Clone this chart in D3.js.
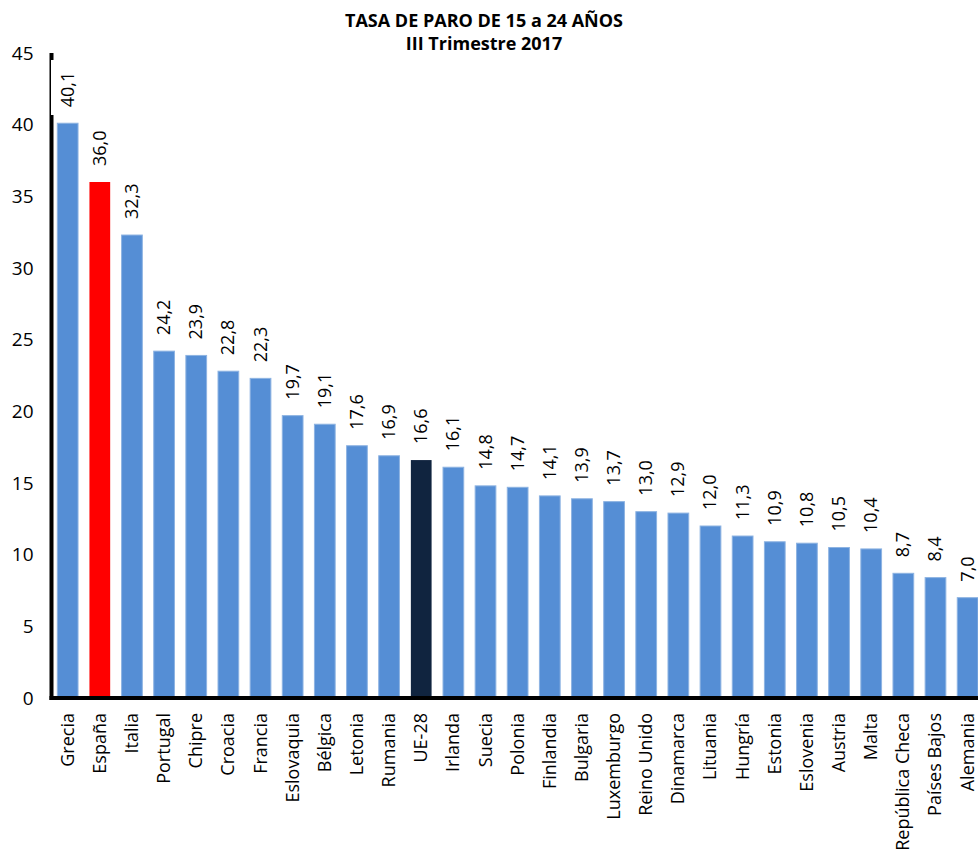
<!DOCTYPE html>
<html><head><meta charset="utf-8">
<script src="https://cdn.jsdelivr.net/npm/d3@7"></script>
<style>body{margin:0;background:#fff}svg{display:block}</style>
</head><body>
<script>
const categories = ["Grecia","España","Italia","Portugal","Chipre","Croacia","Francia","Eslovaquia","Bélgica","Letonia","Rumania","UE-28","Irlanda","Suecia","Polonia","Finlandia","Bulgaria","Luxemburgo","Reino Unido","Dinamarca","Lituania","Hungría","Estonia","Eslovenia","Austria","Malta","República Checa","Países Bajos","Alemania"];
const values = [40.1,36.0,32.3,24.2,23.9,22.8,22.3,19.7,19.1,17.6,16.9,16.6,16.1,14.8,14.7,14.1,13.9,13.7,13.0,12.9,12.0,11.3,10.9,10.8,10.5,10.4,8.7,8.4,7.0];
const yTicks = [0,5,10,15,20,25,30,35,40,45];
const titleLines = ["TASA DE PARO DE 15 a 24 AÑOS","III Trimestre 2017"];

const W = 978, H = 852;
const font = "Open Sans, sans-serif";
const svg = d3.select("body").append("svg").attr("width", W).attr("height", H);

const x = d3.scaleBand().domain(categories).range([51.6, 983.7]).paddingInner(0.355).paddingOuter(0.1775);
const y = d3.scaleLinear().domain([0,45]).range([698, 53]);

function color(c){ return c==="España" ? "#FF0000" : (c==="UE-28" ? "#10243F" : "#558ED5"); }

svg.append("g").selectAll("rect").data(categories).join("rect")
  .attr("x", d => x(d)).attr("width", x.bandwidth())
  .attr("y", (d,i) => y(values[i])).attr("height", (d,i) => y(0) - y(values[i]))
  .attr("fill", d => color(d))
  .attr("stroke", d => d==="España"||d==="UE-28" ? "none" : "#8DB3E2").attr("stroke-width", 1);

// value labels
svg.append("g").selectAll("text").data(categories).join("text")
  .attr("transform", (d,i) => `translate(${x(d)+x.bandwidth()/2+6},${y(values[i])-16}) rotate(-90)`)
  .attr("font-family", font).attr("font-size", 18).attr("fill", "#000")
  .text((d,i) => d3.format(".1f")(values[i]).replace(".", ","));

// y axis
const yAxis = d3.axisLeft(y).tickValues(yTicks).tickSize(0).tickPadding(18);
const gy = svg.append("g").attr("transform", "translate(51.5,0)").call(yAxis);
gy.select(".domain").remove();
gy.selectAll("text").attr("font-family", font).attr("font-size", 19).attr("fill", "#000");
svg.append("line").attr("x1", 51.5).attr("x2", 51.5).attr("y1", y(45)).attr("y2", y(0)+2)
  .attr("stroke", "#000").attr("stroke-width", 4);
svg.append("rect").attr("x", 51).attr("y", y(45)+7).attr("width", 3).attr("height", 55).attr("fill", "#fff");

// x axis
const xAxis = d3.axisBottom(x).tickSize(0).tickPadding(0);
const gx = svg.append("g").attr("transform", `translate(0,${y(0)})`).call(xAxis);
gx.select(".domain").remove();
gx.selectAll("text").attr("font-family", font).attr("font-size", 18).attr("fill", "#000")
  .attr("text-anchor", "end").attr("dy", null)
  .attr("transform", "translate(6,15) rotate(-90)").attr("y", 0).attr("x", 0);
svg.append("line").attr("x1", 49.5).attr("x2", W).attr("y1", y(0)).attr("y2", y(0))
  .attr("stroke", "#000").attr("stroke-width", 4);

// title
svg.append("g").selectAll("text").data(titleLines).join("text")
  .attr("x", 484).attr("y", (d,i) => 27 + i*23).attr("text-anchor", "middle")
  .attr("font-family", font).attr("font-weight", "bold").attr("font-size", 18).attr("fill", "#000")
  .text(d => d);
</script>
</body></html>
